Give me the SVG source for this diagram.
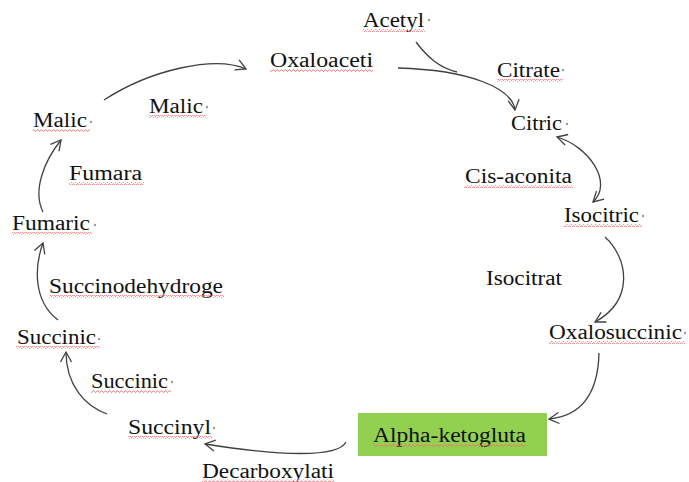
<svg xmlns="http://www.w3.org/2000/svg" width="689" height="482" viewBox="0 0 689 482">
<style>
text{font-family:"Liberation Serif","Times New Roman",serif;font-size:20px;fill:#111}
.c{fill:none;stroke:#404040;stroke-width:1.3}
.u{fill:url(#wave)}
.d{fill:#9a9a9a}
</style>
<defs>
<pattern id="wave" width="4" height="3" patternUnits="userSpaceOnUse">
<path d="M0,2.4 L1,0.8 L2,0.8 L3,2.4 L4,2.4" fill="none" stroke="#f07070" stroke-width="0.8"/>
</pattern>
<marker id="ah" viewBox="-12 -7 14 14" refX="0" refY="0" markerWidth="14" markerHeight="14" markerUnits="userSpaceOnUse" orient="auto-start-reverse">
<path d="M-10,-5.5 L0,0 L-10,5.5" fill="none" stroke="#404040" stroke-width="1.3"/>
</marker>
</defs>
<rect width="689" height="482" fill="#fff"/>
<g id="connectors">
<path class="c" d="M416,42 C428,58 440,68 457,72"/>
<path class="c" d="M398,68 C470,70 512,88 515,110" marker-end="url(#ah)"/>
<path class="c" d="M557,137 C588,146 614,182 593,202" marker-start="url(#ah)" marker-end="url(#ah)"/>
<path class="c" d="M605,237 C628,258 635,300 595,322" marker-end="url(#ah)"/>
<path class="c" d="M599,353 C598,395 580,416 549,419" marker-end="url(#ah)"/>
<path class="c" d="M346,442 C338,458 280,456 205,444" marker-end="url(#ah)"/>
<path class="c" d="M107,414 C85,406 66,385 66,352" marker-end="url(#ah)"/>
<path class="c" d="M58,320 C32,300 35,265 43,243" marker-end="url(#ah)"/>
<path class="c" d="M43,212 C32,190 45,160 61,140" marker-end="url(#ah)"/>
<path class="c" d="M104,100 C150,70 215,55 246,69" marker-end="url(#ah)"/>
</g>
<g id="acetyl"><text x="363" y="27" textLength="61" lengthAdjust="spacingAndGlyphs">Acetyl</text><rect class="u" x="363" y="29" width="62" height="3"/><circle class="d" cx="429" cy="20" r="1.2"/></g>
<g id="oxaloaceti"><text x="270" y="67" textLength="103" lengthAdjust="spacingAndGlyphs">Oxaloaceti</text><rect class="u" x="270" y="69" width="103" height="3"/></g>
<g id="citrate"><text x="497" y="77" textLength="63" lengthAdjust="spacingAndGlyphs">Citrate</text><rect class="u" x="497" y="79" width="66" height="3"/><circle class="d" cx="563" cy="70" r="1.2"/></g>
<g id="citric"><text x="511" y="130" textLength="51" lengthAdjust="spacingAndGlyphs">Citric</text><circle class="d" cx="567" cy="124" r="1.2"/></g>
<g id="cis-aconita"><text x="465" y="183" textLength="107" lengthAdjust="spacingAndGlyphs">Cis-aconita</text><rect class="u" x="464" y="185" width="109" height="3"/></g>
<g id="isocitric"><text x="564" y="222" textLength="75" lengthAdjust="spacingAndGlyphs">Isocitric</text><rect class="u" x="564" y="224" width="78" height="3"/><circle class="d" cx="643" cy="216" r="1.2"/></g>
<g id="isocitrat"><text x="486" y="285" textLength="76" lengthAdjust="spacingAndGlyphs">Isocitrat</text></g>
<g id="oxalosuccinic"><text x="549" y="339" textLength="133" lengthAdjust="spacingAndGlyphs">Oxalosuccinic</text><rect class="u" x="549" y="341" width="136" height="3"/><circle class="d" cx="685" cy="333" r="1.2"/></g>
<g id="alpha-ketogluta"><rect x="358" y="413" width="189" height="43" fill="#92d050"/><text x="373" y="442" textLength="153" lengthAdjust="spacingAndGlyphs">Alpha-ketogluta</text><rect class="u" x="373" y="444" width="153" height="3"/></g>
<g id="decarboxylati"><text x="202" y="478" textLength="132" lengthAdjust="spacingAndGlyphs">Decarboxylati</text><rect class="u" x="202" y="479.5" width="132" height="2.5"/></g>
<g id="succinyl"><text x="128" y="434" textLength="83" lengthAdjust="spacingAndGlyphs">Succinyl</text><rect class="u" x="128" y="436" width="84" height="3"/><circle class="d" cx="214" cy="428" r="1.2"/></g>
<g id="succinic-label"><text x="91" y="388" textLength="77" lengthAdjust="spacingAndGlyphs">Succinic</text><rect class="u" x="91" y="390" width="80" height="3"/><circle class="d" cx="172" cy="382" r="1.2"/></g>
<g id="succinic"><text x="17" y="344" textLength="79" lengthAdjust="spacingAndGlyphs">Succinic</text><rect class="u" x="16" y="346" width="84" height="3"/><circle class="d" cx="99" cy="339" r="1.2"/></g>
<g id="succinodehydroge"><text x="49" y="293" textLength="174" lengthAdjust="spacingAndGlyphs">Succinodehydroge</text><rect class="u" x="49" y="295" width="175" height="3"/></g>
<g id="fumaric"><text x="12" y="230" textLength="78" lengthAdjust="spacingAndGlyphs">Fumaric</text><rect class="u" x="12" y="232" width="80" height="3"/><circle class="d" cx="95" cy="225" r="1.2"/></g>
<g id="fumara"><text x="69" y="180" textLength="73" lengthAdjust="spacingAndGlyphs">Fumara</text><rect class="u" x="69" y="182" width="75" height="3"/></g>
<g id="malic"><text x="33" y="127" textLength="54" lengthAdjust="spacingAndGlyphs">Malic</text><rect class="u" x="33" y="129" width="57" height="3"/><circle class="d" cx="91" cy="122" r="1.2"/></g>
<g id="malic-label"><text x="149" y="113" textLength="54" lengthAdjust="spacingAndGlyphs">Malic</text><rect class="u" x="149" y="115" width="57" height="3"/><circle class="d" cx="207" cy="107" r="1.2"/></g>
</svg>
